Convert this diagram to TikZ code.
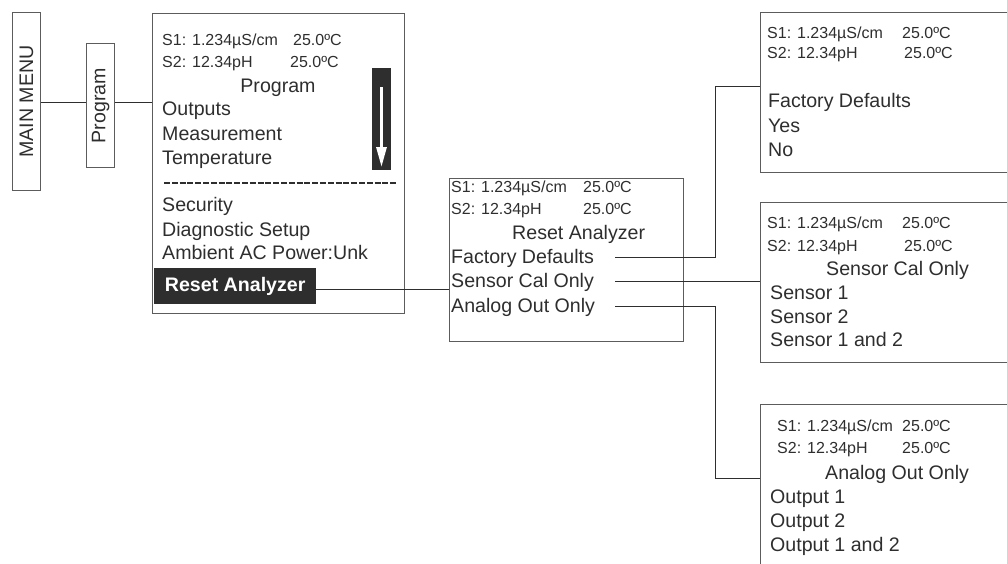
\documentclass[tikz,border=0pt]{standalone}
\usepackage{fontspec}
\setmainfont{Liberation Sans}
\usetikzlibrary{arrows.meta}
\definecolor{ink}{HTML}{2E2E2E}
\definecolor{frame}{HTML}{5C5C5C}

\begin{document}
\begin{tikzpicture}[x=1pt,y=-1pt,
  panel/.style={draw=frame, line width=1.2pt, anchor=north west, inner sep=0pt},
  item/.style={anchor=base west, inner sep=0pt, text=ink, font=\fontsize{19.6}{24}\selectfont},
  small/.style={anchor=base west, inner sep=0pt, text=ink, font=\fontsize{16}{19}\selectfont},
  wire/.style={draw=ink, line width=0.9pt}]
\useasboundingbox (0,0) rectangle (1007,563);
\clip (0,0) rectangle (1007,563);

% menu tabs
\node[panel, minimum width=28pt, minimum height=178pt, text=ink, font=\fontsize{19.6}{24}\selectfont] (mainmenu) at (12,12) {\rotatebox{90}{MAIN MENU}};
\node[panel, minimum width=28pt, minimum height=124pt, text=ink, font=\fontsize{19.6}{24}\selectfont] (progtab) at (86,43) {\rotatebox{90}{Program}};

% program screen
\node[panel, minimum width=252pt, minimum height=300pt] (progbox) at (152,13) {};
\node[small] (ps1) at (162,45.5) {S1: 1.234µS/cm};
\node[small] (ps1t) at (293,45.5) {25.0ºC};
\node[small] (ps2) at (162,67.5) {S2: 12.34pH};
\node[small] (ps2t) at (290,67.5) {25.0ºC};
\node[item, anchor=base] (progtitle) at (278,92) {Program};
\node[item] (outputs) at (162,115) {Outputs};
\node[item] (measure) at (162,140) {Measurement};
\node[item] (temp) at (162,164) {Temperature};
\draw[ink, line width=1.8pt, dash pattern=on 6pt off 1.8pt] (164,183) -- (397,183);
\node[item] (security) at (162,211) {Security};
\node[item] (diag) at (162,236) {Diagnostic Setup};
\node[item] (ambient) at (162,259) {Ambient AC Power:Unk};
\node[anchor=north west, inner sep=0pt, fill=ink, text=white, minimum width=162pt, minimum height=36pt,
  font=\fontsize{19.6}{24}\selectfont\bfseries] (reset) at (154,268) {Reset Analyzer};
% scroll bar
\fill[ink] (372,68) rectangle (391,170);
\draw[white, line width=3pt, -{Triangle[width=10pt,length=20pt]}] (381.5,87) -- (381.5,167);

% reset analyzer screen
\node[panel, minimum width=234pt, minimum height=163pt] (resetbox) at (449,178) {};
\node[small] (rs1) at (451,192.5) {S1: 1.234µS/cm};
\node[small] (rs1t) at (583,192.5) {25.0ºC};
\node[small] (rs2) at (451,214.5) {S2: 12.34pH};
\node[small] (rs2t) at (583,214.5) {25.0ºC};
\node[item] (rtitle) at (512,239) {Reset Analyzer};
\node[item] (factory) at (451,263) {Factory Defaults};
\node[item] (sensor) at (451,287) {Sensor Cal Only};
\node[item] (analog) at (451,312) {Analog Out Only};

% factory defaults screen
\node[panel, minimum width=260pt, minimum height=160pt] (facbox) at (760,12) {};
\node[small] (fs1) at (767,38.5) {S1: 1.234µS/cm};
\node[small] (fs1t) at (902,38.5) {25.0ºC};
\node[small] (fs2) at (767,58.5) {S2: 12.34pH};
\node[small] (fs2t) at (904,58.5) {25.0ºC};
\node[item] (ftitle) at (768,107) {Factory Defaults};
\node[item] (fyes) at (768,132) {Yes};
\node[item] (fno) at (768,156) {No};

% sensor cal screen
\node[panel, minimum width=260pt, minimum height=160pt] (sensbox) at (760,202) {};
\node[small] (ss1) at (767,228.5) {S1: 1.234µS/cm};
\node[small] (ss1t) at (902,228.5) {25.0ºC};
\node[small] (ss2) at (767,251.5) {S2: 12.34pH};
\node[small] (ss2t) at (904,251.5) {25.0ºC};
\node[item] (stitle) at (826,275) {Sensor Cal Only};
\node[item] (sone) at (770,299) {Sensor 1};
\node[item] (stwo) at (770,323) {Sensor 2};
\node[item] (sboth) at (770,346) {Sensor 1 and 2};

% analog out screen
\node[panel, minimum width=260pt, minimum height=180pt] (anabox) at (760,404) {};
\node[small] (as1) at (777,431.5) {S1: 1.234µS/cm};
\node[small] (as1t) at (902,431.5) {25.0ºC};
\node[small] (as2) at (777,453.5) {S2: 12.34pH};
\node[small] (as2t) at (902,453.5) {25.0ºC};
\node[item] (atitle) at (825,479) {Analog Out Only};
\node[item] (aone) at (770,503) {Output 1};
\node[item] (atwo) at (770,527) {Output 2};
\node[item] (aboth) at (770,551) {Output 1 and 2};

% connectors
\coordinate (fdstub) at (615,257);
\coordinate (scstub) at (615,281);
\coordinate (aostub) at (615,306);
\draw[wire] (mainmenu.east |- 0,102) -- (progtab.west |- 0,102);
\draw[wire] (progtab.east |- 0,102) -- (progbox.west |- 0,102);
\draw[wire] (reset.east |- 0,289) -- (resetbox.west |- 0,289);
\draw[wire] (fdstub) -- ++(100,0) |- (facbox.west |- 0,86);
\draw[wire] (scstub) -- (sensbox.west |- scstub);
\draw[wire] (aostub) -- ++(100,0) |- (anabox.west |- 0,478);
\end{tikzpicture}
\end{document}
